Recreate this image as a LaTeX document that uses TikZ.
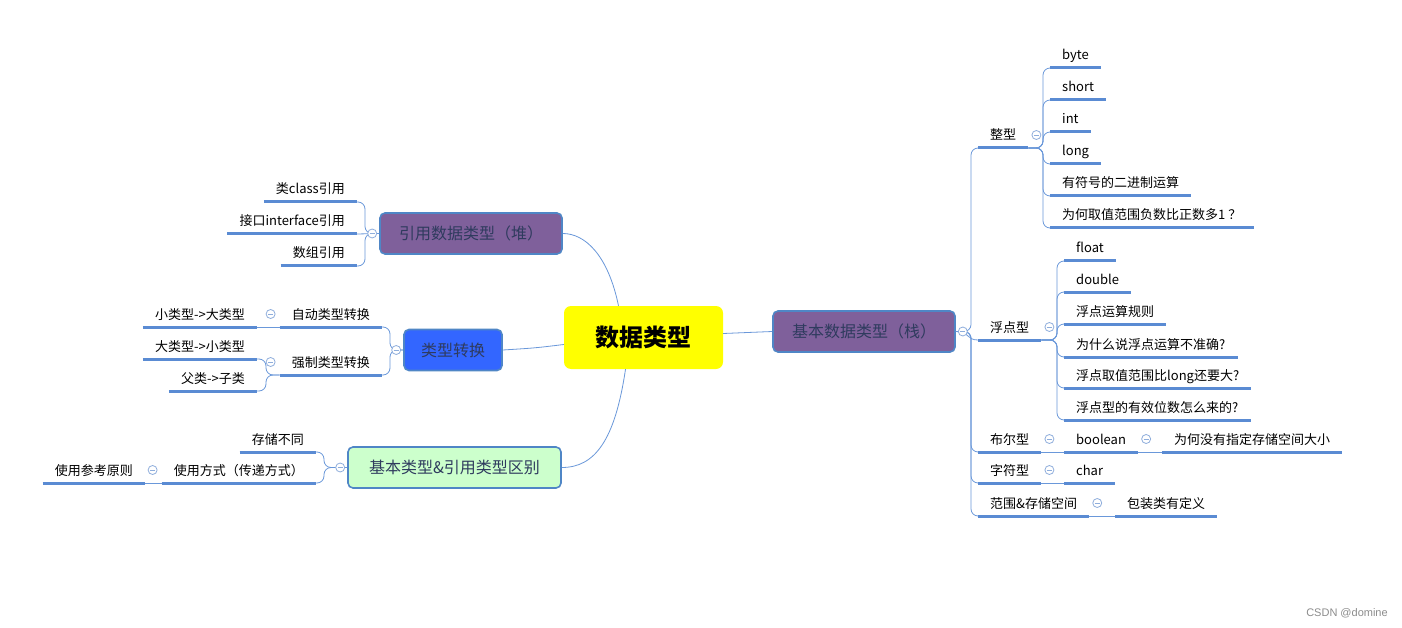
\documentclass[tikz,border=0pt]{standalone}
\usepackage{fontspec}
\setmainfont{Noto Sans CJK SC}
\newfontfamily\wmfont{Liberation Sans}
\definecolor{lineblue}{HTML}{6A98DA}
\definecolor{ulblue}{HTML}{5A8BD3}
\definecolor{bordblue}{HTML}{4F86C6}
\definecolor{purp}{HTML}{7F609B}
\definecolor{navy}{HTML}{2F3B5E}
\definecolor{ctblue}{HTML}{3366FF}
\definecolor{lgreen}{HTML}{CCFFCC}
\definecolor{circc}{HTML}{8FAEDC}
\definecolor{cyellow}{HTML}{FFFF00}
\tikzset{
  leaf/.style={font=\fontsize{13}{15}\selectfont, inner xsep=12pt, inner ysep=2pt, text=black},
  ul/.style={draw=ulblue, line width=3pt},
  conn/.style={draw=lineblue, line width=0.8pt},
  tr/.style={conn, rounded corners=7pt},
  cnode/.style={fill=cyellow, rounded corners=7pt, minimum width=159pt, minimum height=63pt, inner sep=0pt,
    text height=19pt, text depth=1pt, font=\fontsize{24}{28}\selectfont\bfseries},
  mnode/.style={draw=bordblue, line width=1.6pt, rounded corners=5pt, minimum height=41pt, inner sep=0pt,
    text height=13pt, text depth=1pt, font=\fontsize{16}{18}\selectfont, text=navy},
  circ/.style={circle, draw=circc, fill=white, line width=0.8pt, minimum size=9pt, inner sep=0pt,
    path picture={\draw[circc, line width=0.8pt] ([xshift=-2.5pt]path picture bounding box.center) -- ([xshift=2.5pt]path picture bounding box.center);}}
}
\newcommand\leafR[4]{%
  \node[leaf, anchor=base west] (#1) at (#2,#3-8) {#4};
  \coordinate (#1-l) at ([yshift=-8pt]#1.base west);
  \coordinate (#1-r) at ([yshift=-8pt]#1.base east);
  \draw[ul] (#1-l) -- (#1-r);}
\newcommand\leafL[4]{%
  \node[leaf, anchor=base east] (#1) at (#2,#3-8) {#4};
  \coordinate (#1-l) at ([yshift=-8pt]#1.base west);
  \coordinate (#1-r) at ([yshift=-8pt]#1.base east);
  \draw[ul] (#1-l) -- (#1-r);}
\begin{document}
\begin{tikzpicture}[x=1pt,y=-1pt]
\fill[white] (0,0) rectangle (1402,628);
\useasboundingbox (0,0) rectangle (1402,628);

% main nodes
\node[cnode] (cen) at (643.5,337.5) {数据类型};
\node[mnode, fill=purp, minimum width=182pt] (jb) at (864,331.5) {基本数据类型（栈）};
\node[mnode, fill=purp, minimum width=182pt] (yin) at (471,233.5) {引用数据类型（堆）};
\node[mnode, fill=ctblue, minimum width=98pt] (zh) at (453,350) {类型转换};
\node[mnode, fill=lgreen, minimum width=213pt] (qb) at (454.5,467.5) {基本类型\&引用类型区别};

% right leaves
\leafR{zx}{978}{148}{整型}
\leafR{fd}{978}{340}{浮点型}
\leafR{be}{978}{452}{布尔型}
\leafR{zf}{978}{483}{字符型}
\leafR{fw}{978}{516}{范围\&存储空间}

\leafR{by}{1050}{68}{byte}
\leafR{sh}{1050}{100}{short}
\leafR{in}{1050}{132}{int}
\leafR{lo}{1050}{164}{long}
\leafR{yf}{1050}{196}{有符号的二进制运算}
\leafR{wh}{1050}{228}{为何取值范围负数比正数多1 ？}

\leafR{fl}{1064}{261}{float}
\leafR{db}{1064}{292}{double}
\leafR{gz}{1064}{324}{浮点运算规则}
\leafR{bz}{1064}{357}{为什么说浮点运算不准确?}
\leafR{fr}{1064}{388}{浮点取值范围比long还要大?}
\leafR{yx}{1064}{420}{浮点型的有效位数怎么来的?}

\leafR{bo}{1064}{452}{boolean}
\leafR{bw}{1162}{452}{为何没有指定存储空间大小}
\leafR{ch}{1064}{483}{char}
\leafR{bd}{1115}{516}{包装类有定义}

% left leaves
\leafL{cl}{357}{202}{类class引用}
\leafL{jk}{357}{234}{接口interface引用}
\leafL{sz}{357}{266}{数组引用}
\leafL{zd}{382}{327}{自动类型转换}
\leafL{qz}{382}{375}{强制类型转换}
\leafL{xd}{257}{327}{小类型->大类型}
\leafL{dx}{257}{359}{大类型->小类型}
\leafL{fz}{257}{391}{父类->子类}
\leafL{cc}{316}{452}{存储不同}
\leafL{sy}{316}{483}{使用方式（传递方式）}
\leafL{yz}{145}{483}{使用参考原则}

% center connectors
\draw[conn] ([yshift=4pt]cen.east) .. controls (748,332) .. (jb.west);
\draw[conn] ([xshift=-25pt]cen.north) .. controls (608,255) and (585,233.5) .. (yin.east);
\draw[conn] ([yshift=-7pt]cen.west) .. controls (535,348) .. (zh.east);
\draw[conn] ([xshift=-18pt]cen.south) .. controls (615,440) and (595,467.5) .. (qb.east);

% right trunk
\draw[tr] (jb.east) -| ([xshift=-7pt]zx-l) -- (zx-l);
\draw[conn] (jb.east) .. controls ([xshift=14pt]jb.east) and ([xshift=-12pt]fd-l) .. (fd-l);
\draw[tr] (jb.east) -| ([xshift=-7pt]be-l) -- (be-l);
\draw[tr] (jb.east) -| ([xshift=-7pt]zf-l) -- (zf-l);
\draw[tr] (jb.east) -| ([xshift=-7pt]fw-l) -- (fw-l);

\foreach \c in {by,sh,in,lo,yf,wh}{\draw[tr] (zx-r) -| ([xshift=-7pt]\c-l) -- (\c-l);}
\foreach \c in {fl,db,gz,bz,fr,yx}{\draw[tr] (fd-r) -| ([xshift=-7pt]\c-l) -- (\c-l);}
\draw[conn] (be-r) -- (bo-l);
\draw[conn] (bo-r) -- (bw-l);
\draw[conn] (zf-r) -- (ch-l);
\draw[conn] (fw-r) -- (bd-l);

% left trunks
\draw[tr] (yin.west) -| ([xshift=8pt]cl-r) -- (cl-r);
\draw[conn] (yin.west) -- (jk-r);
\draw[tr] (yin.west) -| ([xshift=8pt]sz-r) -- (sz-r);
\draw[tr] (zh.west) -| ([xshift=8pt]zd-r) -- (zd-r);
\draw[tr] (zh.west) -| ([xshift=8pt]qz-r) -- (qz-r);
\draw[conn] (zd-l) -- (xd-r);
\draw[tr] (qz-l) -| ([xshift=9pt]dx-r) -- (dx-r);
\draw[tr] (qz-l) -| ([xshift=9pt]fz-r) -- (fz-r);
\draw[tr] (qb.west) -| ([xshift=8pt]cc-r) -- (cc-r);
\draw[tr] (qb.west) -| ([xshift=8pt]sy-r) -- (sy-r);
\draw[conn] (sy-l) -- (yz-r);

% collapse circles
\node[circ] (c-jb) at ([xshift=7pt]jb.east) {};
\node[circ] (c-yin) at ([xshift=-7pt]yin.west) {};
\node[circ] (c-zh) at ([xshift=-7pt]zh.west) {};
\node[circ] (c-qb) at ([xshift=-7pt]qb.west) {};
\foreach \c in {zx,fd,be,zf,fw,bo}{\node[circ] (c-\c) at ([xshift=8pt,yshift=13pt]\c-r) {};}
\foreach \c in {zd,qz,sy}{\node[circ] (c-\c) at ([xshift=-9pt,yshift=13pt]\c-l) {};}

% watermark
\node[font=\fontsize{11}{13}\selectfont\wmfont, text=black!45] (wm) at (1347,613) {CSDN @domine};
\end{tikzpicture}
\end{document}
